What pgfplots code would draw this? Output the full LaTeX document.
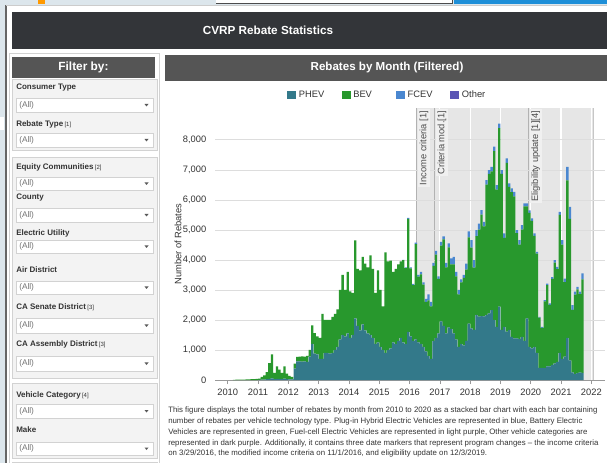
\documentclass[border=0pt]{standalone}
\usepackage{fontspec}
\setmainfont{Liberation Sans}
\setsansfont{Liberation Sans}
\usepackage{pgfplots}
\usepackage{pgfplotstable}
\pgfplotsset{compat=1.18}
\definecolor{phev}{HTML}{33798A}
\definecolor{bev}{HTML}{28982D}
\definecolor{fcev}{HTML}{4A87D0}
\definecolor{oth}{HTML}{5A55B5}
\definecolor{hdr}{HTML}{333539}
\definecolor{sub}{HTML}{555555}
\definecolor{band}{HTML}{E6E6E6}
\definecolor{bgblue}{HTML}{DCE6EC}
\definecolor{topblue}{HTML}{1E8FD8}
\definecolor{grpfill}{HTML}{F3F3F3}
\definecolor{grpline}{HTML}{D2D2D2}
\definecolor{txt}{HTML}{333333}
\definecolor{lblbg}{HTML}{F0F0F0}
\definecolor{gridc}{HTML}{DDDDDD}

\pgfplotstableread{
yr mo phev bev fcev oth
2010 1 0 0 0 0
2010 2 0 0 0 0
2010 3 0 5 0 0
2010 4 0 10 0 0
2010 5 0 10 0 0
2010 6 0 15 0 0
2010 7 0 15 0 0
2010 8 0 20 0 0
2010 9 0 20 0 0
2010 10 0 25 0 0
2010 11 0 25 0 0
2010 12 0 40 0 0
2011 1 5 40 0 0
2011 2 10 90 0 0
2011 3 15 140 0 0
2011 4 25 240 0 0
2011 5 35 530 0 0
2011 6 50 805 0 0
2011 7 30 205 0 0
2011 8 40 415 0 0
2011 9 35 310 0 0
2011 10 25 210 0 0
2011 11 45 410 0 0
2011 12 25 185 0 0
2012 1 20 115 0 0
2012 2 20 80 0 0
2012 3 380 165 0 0
2012 4 620 150 0 0
2012 5 620 160 0 0
2012 6 610 180 0 0
2012 7 620 160 0 0
2012 8 600 200 0 0
2012 9 780 220 0 0
2012 10 1200 620 0 0
2012 11 880 680 0 0
2012 12 850 600 0 0
2013 1 700 700 0 0
2013 2 700 1500 0 0
2013 3 900 1100 0 0
2013 4 900 1100 0 0
2013 5 880 1120 0 0
2013 6 900 1200 0 0
2013 7 1000 1200 0 0
2013 8 1100 1250 0 0
2013 9 1350 1650 0 0
2013 10 1500 2000 0 0
2013 11 1450 1550 0 0
2013 12 1550 2050 0 0
2014 1 1400 1550 0 0
2014 2 1500 1400 0 0
2014 3 2050 2600 0 0
2014 4 1800 1900 0 0
2014 5 1650 2000 0 0
2014 6 1850 2250 0 0
2014 7 1650 2230 0 0
2014 8 1550 2200 0 0
2014 9 1500 2650 0 0
2014 10 1400 2300 0 0
2014 11 1200 1700 0 0
2014 12 1250 2400 0 0
2015 1 1100 1900 0 0
2015 2 1000 1450 0 0
2015 3 900 3350 0 0
2015 4 1000 2950 0 0
2015 5 1050 2930 0 0
2015 6 1250 2350 0 0
2015 7 1200 2500 0 0
2015 8 1300 2550 0 0
2015 9 1400 2550 0 0
2015 10 1250 2740 10 0
2015 11 1200 2530 20 0
2015 12 1600 3770 30 0
2016 1 1450 2270 30 0
2016 2 1300 1860 40 0
2016 3 1350 3180 50 0
2016 4 1250 2190 60 0
2016 5 1200 2320 80 0
2016 6 1100 2080 70 0
2016 7 950 1650 100 0
2016 8 800 1850 200 0
2016 9 700 1750 150 0
2016 10 1300 2500 100 0
2016 11 1400 2780 120 0
2016 12 1550 1820 80 0
2017 1 1950 2530 120 0
2017 2 1800 2880 100 0
2017 3 1550 2200 150 0
2017 4 1750 2670 130 0
2017 5 1700 2150 200 0
2017 6 1550 2300 250 0
2017 7 1350 2100 150 0
2017 8 1100 1750 150 0
2017 9 1200 2050 100 0
2017 10 1150 2250 100 0
2017 11 1300 2380 200 0
2017 12 1880 2870 200 0
2018 1 1720 2690 250 0
2018 2 1670 2070 250 0
2018 3 2170 2620 200 0
2018 4 2110 2900 200 0
2018 5 2130 3380 150 0
2018 6 2120 3000 150 0
2018 7 2170 4340 150 0
2018 8 2220 4650 120 0
2018 9 2330 4620 150 0
2018 10 2000 5620 150 0
2018 11 1770 4570 150 0
2018 12 2440 5950 150 0
2019 1 1670 5200 120 0
2019 2 1770 2960 150 0
2019 3 1610 5620 150 0
2019 4 1670 4760 120 0
2019 5 1440 4820 120 0
2019 6 1390 4730 150 0
2019 7 1390 3500 100 0
2019 8 1360 3150 150 0
2019 9 1440 3570 150 0
2019 10 1300 4480 100 0
2019 11 2050 3730 100 0
2019 12 1100 4470 80 0
2020 1 1050 4250 80 0
2020 2 1100 3700 80 0
2020 3 900 3310 60 0
2020 4 400 1680 20 0
2020 5 400 1340 30 0
2020 6 400 2220 40 0
2020 7 450 2710 50 0
2020 8 450 2050 50 0
2020 9 500 2870 60 0
2020 10 550 3360 80 0
2020 11 600 3090 80 0
2020 12 900 4600 100 0
2021 1 700 3810 150 0
2021 2 780 2480 120 0
2021 3 1400 5250 450 0
2021 4 650 4720 400 0
2021 5 250 2090 150 0
2021 6 200 2640 100 0
2021 7 230 2790 80 0
2021 8 250 2610 80 0
2021 9 240 3110 200 0
}\rebates

\pgfplotstableread{
x y
2016.24 9060
2022.07 9060
}\bandtab

\newcommand{\flabel}[3]{\node[anchor=west, inner sep=0pt, text=txt, font=\fontsize{6}{7}\selectfont\bfseries] at (16,#1) {#2\,{\fontsize{4.5}{5}\selectfont\mdseries #3}};}
\newcommand{\ddown}[2]{%
  \draw[grpline, fill=white, line width=0.5pt] (16,#1) rectangle (153,#2);
  \node[anchor=west, inner sep=0pt, text=black!55, font=\fontsize{6.2}{7}\selectfont] at (19,{(#1+#2)/2}) {(All)};
  \fill[black!65] (144.5,{(#1+#2)/2-1}) -- (148.5,{(#1+#2)/2-1}) -- (146.5,{(#1+#2)/2+1.5}) -- cycle;}

\pgfplotsset{
  geom/.style={at={(161.25pt,-285pt)}, anchor=south west,
    scale only axis, width=292.5pt, height=204pt,
    xmin=2009.58, xmax=2022.45, ymin=0, ymax=9060, enlargelimits=false},
}
\tikzset{mk/.style={rotate=90, anchor=north east, fill=lblbg, inner sep=1.3pt, text=black!70, font=\fontsize{7}{8}\selectfont}}

\begin{document}
\begin{tikzpicture}
\begin{scope}[x=0.75pt,y=-0.75pt]
\useasboundingbox (0,0) rectangle (607,463);
\fill[bgblue] (0,0) rectangle (607,463);
\fill[white] (216,0) rectangle (452,3.5);
\draw[black!70, line width=0.6pt] (216,3.5) -- (452,3.5) -- (452,0);
\fill[topblue] (454,0) rectangle (607,4);
\fill[orange!80!yellow] (38,0) rectangle (45,4);
\fill[white] (0,117) rectangle (4,130);
\fill[white] (6,5) rectangle (607,463);
\draw[black!60, line width=0.8pt] (6,5) -- (6,463);
\draw[gray!40] (6,5.3) -- (607,5.3);
\fill[hdr] (12,12) rectangle (607,49);
\node[white, font=\fontsize{8.8}{10}\selectfont\bfseries] at (268,30.5) {CVRP Rebate Statistics};
\draw[grpline, line width=0.5pt] (9,53) rectangle (159.5,470);
\fill[sub] (12,57) rectangle (155,78);
\node[white, font=\fontsize{8.9}{10}\selectfont\bfseries] at (83.5,67.5) {Filter by:};
\draw[grpline, fill=grpfill, line width=0.5pt] (12,79) rectangle (157,150);
\draw[grpline, fill=grpfill, line width=0.5pt] (12,157) rectangle (157,378);
\draw[grpline, fill=grpfill, line width=0.5pt] (12,383) rectangle (157,458);
\draw[grpline, fill=grpfill, line width=0.5pt] (12,462) rectangle (157,470);
\flabel{88}{Consumer Type}{}
\ddown{98}{112}
\flabel{124}{Rebate Type}{[1]}
\ddown{133}{147}
\flabel{167}{Equity Communities}{[2]}
\ddown{177}{190}
\flabel{198}{County}{}
\ddown{208}{222}
\flabel{233}{Electric Utility}{}
\ddown{240}{253}
\flabel{270}{Air District}{}
\ddown{281}{294}
\flabel{307}{CA Senate District}{[3]}
\ddown{318}{333}
\flabel{344}{CA Assembly District}{[3]}
\ddown{356}{371}
\flabel{395}{Vehicle Category}{[4]}
\ddown{404}{418}
\flabel{430}{Make}{}
\ddown{442}{455}
\fill[sub] (165,55) rectangle (607,81);
\node[white, font=\fontsize{8.7}{10}\selectfont\bfseries] at (387,68) {Rebates by Month (Filtered)};
\node[anchor=west, inner sep=0pt, text=txt, font=\fontsize{5.88}{6.5}\selectfont] at (168,410) {This figure displays the total number of rebates by month from 2010 to 2020 as a stacked bar chart with each bar containing};
\node[anchor=west, inner sep=0pt, text=txt, font=\fontsize{5.88}{6.5}\selectfont] at (168,421) {number of rebates per vehicle technology type. Plug-in Hybrid Electric Vehicles are represented in blue, Battery Electric};
\node[anchor=west, inner sep=0pt, text=txt, font=\fontsize{5.88}{6.5}\selectfont] at (168,432) {Vehicles are represented in green, Fuel-cell Electric Vehicles are represented in light purple, Other vehicle categories are};
\node[anchor=west, inner sep=0pt, text=txt, font=\fontsize{5.88}{6.5}\selectfont] at (168,443) {represented in dark purple. Additionally, it contains three date markers that represent program changes -- the income criteria};
\node[anchor=west, inner sep=0pt, text=txt, font=\fontsize{5.88}{6.5}\selectfont] at (168,453.5) {on 3/29/2016, the modified income criteria on 11/1/2016, and eligibility update on 12/3/2019.};
\end{scope}

% background axis: program-change band and marker lines
\begin{axis}[geom, hide axis]
\addplot[fill=band, draw=none] table[x=x, y=y]{\bandtab} \closedcycle;
\addplot[gray!60, line width=0.8pt] coordinates {(2016.24,0) (2016.24,9060)};
\addplot[gray!60, line width=0.8pt] coordinates {(2016.83,0) (2016.83,9060)};
\addplot[gray!60, line width=0.8pt] coordinates {(2019.92,0) (2019.92,9060)};
\addplot[gray!45, line width=0.8pt] coordinates {(2022.07,0) (2022.07,9060)};
\end{axis}

% bars
\begin{axis}[geom,
  ybar stacked, bar width=1.72pt,
  axis x line*=bottom, axis y line*=left,
  y axis line style={draw=none}, x axis line style={gray!80},
  xtick={2010,2011,...,2022}, ytick={0,1000,...,8000},
  xtick style={gray!80, thin}, ytick style={draw=none},
  tick align=outside, major tick length=3pt,
  xticklabel style={/pgf/number format/1000 sep={}},
  yticklabel style={/pgf/number format/1000 sep={,}},
  /pgf/number format/assume math mode=true,
  tick label style={font=\fontsize{7}{8}\selectfont, text=txt},
  ymajorgrids, y grid style={gridc, line width=0.5pt},
  xmajorgrids, x grid style={white, line width=0.9pt},
  ylabel={Number of Rebates},
  every axis y label/.style={at={(axis description cs:-0.095,0.5)}, rotate=90, anchor=center, font=\fontsize{7}{8}\selectfont, text=txt},
  legend columns=4,
  legend style={draw=none, fill=none, at={(0.464,1.048)}, anchor=center,
    font=\fontsize{7}{8}\selectfont, text=txt,
    /tikz/every even column/.append style={column sep=0pt}},
  legend image code/.code={\fill[#1] (0pt,-3pt) rectangle (6.75pt,3pt);},
]
\addplot[fill=phev, draw=none] table[x expr=\thisrow{yr}+(\thisrow{mo}-0.5)/12, y=phev]{\rebates};
\addplot[fill=bev, draw=none] table[x expr=\thisrow{yr}+(\thisrow{mo}-0.5)/12, y=bev]{\rebates};
\addplot[fill=fcev, draw=none] table[x expr=\thisrow{yr}+(\thisrow{mo}-0.5)/12, y=fcev]{\rebates};
\addplot[fill=oth, draw=none] table[x expr=\thisrow{yr}+(\thisrow{mo}-0.5)/12, y=oth]{\rebates};
\legend{\makebox[30pt][l]{PHEV},\makebox[30pt][l]{BEV},\makebox[30pt][l]{FCEV},\makebox[30pt][l]{Other}}
\end{axis}

% marker labels on top
\begin{axis}[geom, hide axis]
\addplot[draw=none] coordinates {(2010,0)};
\node[mk] at (axis cs:2016.27,9030) {Income criteria [1]};
\node[mk] at (axis cs:2016.86,9030) {Criteria mod.[1]};
\node[mk] at (axis cs:2019.95,9030) {Eligibility update [1][4]};
\end{axis}
\end{tikzpicture}
\end{document}
